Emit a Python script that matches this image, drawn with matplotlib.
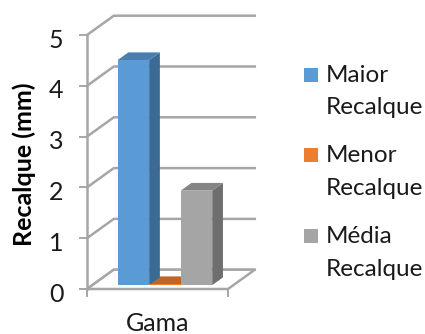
import matplotlib
matplotlib.use("Agg")
import matplotlib.pyplot as plt
from matplotlib.patches import Polygon, Rectangle
from matplotlib.transforms import ScaledTranslation

categories = ["Maior\nRecalque", "Menor\nRecalque", "Média\nRecalque"]
values = [4.43, 0.02, 1.86]
group_label = "Gama"
y_ticks = [0, 1, 2, 3, 4, 5]
y_label = "Recalque (mm)"

front_colors = ["#5b9bd5", "#ed7d31", "#a5a5a5"]
side_colors = ["#3b6a94", "#a8561f", "#6e6e6e"]
top_colors = ["#4a7eae", "#c0652a", "#858585"]
grid_color = "#a6a6a6"

W, H = 425, 334
plt.rcParams["font.family"] = ["Lato", "DejaVu Sans"]

fig = plt.figure(figsize=(W / 100, H / 100), dpi=100)
# front plane of the 3d box, in pixels from the top left
left, right, top, bottom = 87, 228, 35, 289
ax = fig.add_axes([left / W, 1 - bottom / H, (right - left) / W, (bottom - top) / H])
ax.set_xlim(-2.30, 2.17)
ax.set_ylim(0, 5)
ax.patch.set_alpha(0)

# one unit of depth moves a point this far right and up
DEPTH_X = 0.85
DEPTH_Y = 0.38


def project(x, y, depth):
    return x + DEPTH_X * depth, y + DEPTH_Y * depth


x0, x1 = ax.get_xlim()

# back wall gridlines, with the diagonal running along the side wall
for v in y_ticks:
    px, py = project(x1, v, 1)
    bx, by = project(x0, v, 1)
    ax.plot([x0, bx, px], [v, by, py], color=grid_color, lw=1.8, clip_on=False, zorder=1)

# floor outline
floor = [project(x0, 0, 0), project(x1, 0, 0), project(x1, 0, 1), project(x0, 0, 1)]
ax.add_patch(Polygon(floor, closed=True, fc="white", ec=grid_color, lw=1.8, clip_on=False, zorder=1.5))

ax.plot([x0, x0], [0, project(x0, 5, 0)[1]], color=grid_color, lw=1.8, clip_on=False, zorder=2)

# bars: 3d box with a front, a side and a top face
d0, d1 = 0.2, 0.6
for i, v in enumerate(values):
    xa, xb = i - 1.5, i - 0.5
    fl = project(xa, 0, d0)
    fr = project(xb, 0, d0)
    base = fl[1]
    xl, xr = fl[0], fr[0]
    sx = DEPTH_X * (d1 - d0)
    sy = DEPTH_Y * (d1 - d0)
    # side first so the orange floor sliver stays behind the neighbours
    ax.add_patch(Polygon([(xr, base), (xr + sx, base + sy), (xr + sx, base + v + sy), (xr, base + v)],
                         fc=side_colors[i], ec="none", clip_on=False, zorder=3 + (2 - i) * 0.1))
    ax.add_patch(Polygon([(xl, base + v), (xr, base + v), (xr + sx, base + v + sy), (xl + sx, base + v + sy)],
                         fc=top_colors[i], ec="none", clip_on=False, zorder=3 + (2 - i) * 0.1))
    ax.bar(xl + 0.5, v, width=xr - xl, bottom=base, color=front_colors[i], zorder=4, clip_on=False)

for s in ax.spines.values():
    s.set_visible(False)

ax.set_yticks(y_ticks)
ax.tick_params(axis="y", length=6, width=1.4, color=grid_color, pad=11, labelsize=18, labelcolor="#1a1a1a")
# digits sit a little below their ticks
nudge = ScaledTranslation(0, -3 / 100, fig.dpi_scale_trans)
for label in ax.get_yticklabels():
    label.set_transform(label.get_transform() + nudge)
ax.set_xticks([x0, x1])
ax.set_xticklabels([])
ax.tick_params(axis="x", length=6, width=1.4, color=grid_color)
ax.set_xlabel(group_label, fontsize=18, color="#1a1a1a", va="baseline")
ax.xaxis.set_label_coords(0.5, (bottom - 331) / (bottom - top))
ax.set_ylabel(y_label, fontsize=18, fontweight="bold", color="black")
ax.yaxis.set_label_coords((36 - left) / (right - left), (bottom - 164) / (bottom - top))

# legend entries stacked by hand, the swatch sits on the first text line
for i, name in enumerate(categories):
    row = 82 + i * 80.5
    fig.add_artist(Rectangle((304 / W, 1 - row / H), 14 / W, 14.5 / H, fc=front_colors[i], ec="none",
                             transform=fig.transFigure))
    first, second = name.split("\n")
    fig.text(326 / W, 1 - row / H, first, fontsize=17.5, va="baseline", color="#1a1a1a")
    fig.text(326 / W, 1 - (row + 32.5) / H, second, fontsize=17.5, va="baseline", color="#1a1a1a")

fig.savefig("out.png", dpi=100)
